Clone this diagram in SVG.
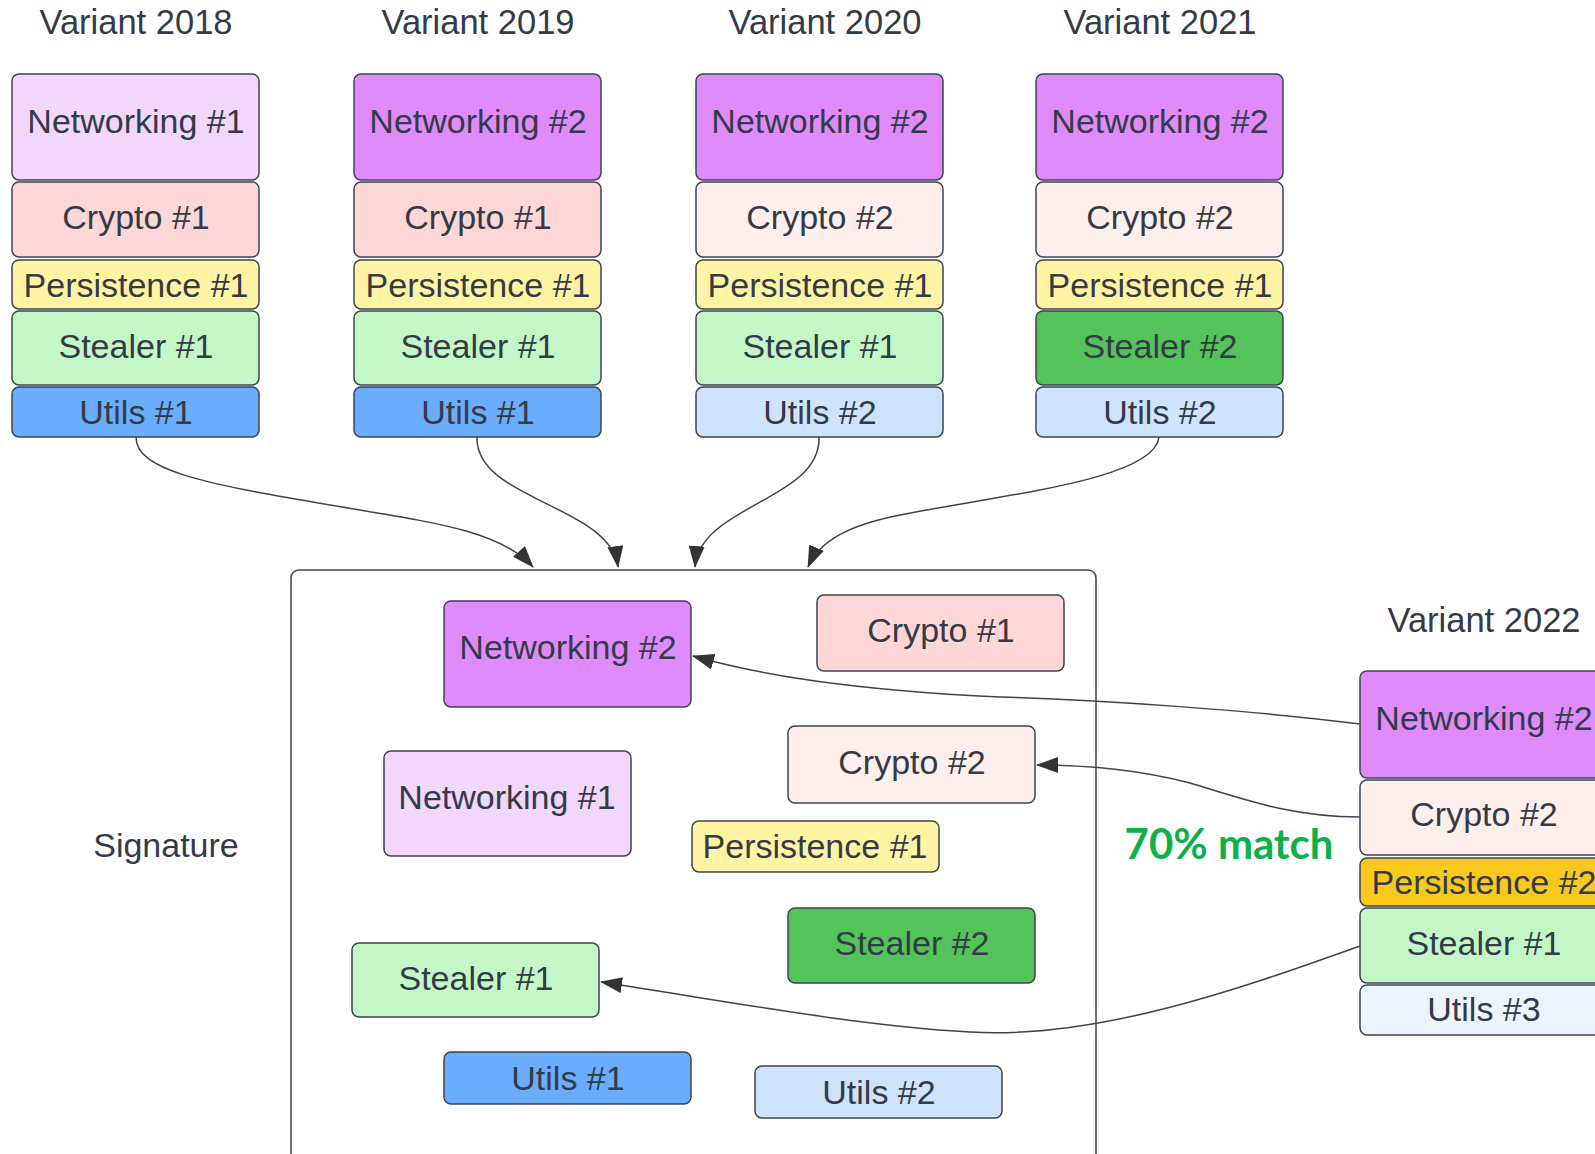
<svg xmlns="http://www.w3.org/2000/svg" width="1595" height="1154" viewBox="0 0 1595 1154">
<defs>
<style>
.b{stroke:#3d4450;stroke-width:1.5}
.t{font-family:"Liberation Sans",Arial,sans-serif;font-size:34px;fill:#333b46;text-anchor:middle}
.h{font-family:"Liberation Sans",Arial,sans-serif;font-size:34.5px;fill:#333b46;text-anchor:middle}
.n1{fill:#f2d6fc}.n2{fill:#df8bfb}.c1{fill:#fed6d6}.c2{fill:#feefec}
.p1{fill:#fff4a3}.p2{fill:#f9c81e}.s1{fill:#c3f7c8}.s2{fill:#54c45a}
.u1{fill:#6aadfd}.u2{fill:#cfe3fd}.u3{fill:#edf4fe}
.e{fill:none;stroke:#3d4450;stroke-width:1.5;marker-end:url(#ah)}
</style>
<marker id="ah" markerUnits="userSpaceOnUse" markerWidth="22" markerHeight="16" refX="21" refY="8" orient="auto">
<path d="M0,0 L22,8 L0,16 z" fill="#333"/>
</marker>
</defs>
<rect width="1595" height="1154" fill="#fff"/>

<g id="titles">
<text class="h" x="136" y="34">Variant 2018</text>
<text class="h" x="478" y="34">Variant 2019</text>
<text class="h" x="825" y="34">Variant 2020</text>
<text class="h" x="1160" y="34">Variant 2021</text>
<text class="h" x="1484" y="632">Variant 2022</text>
<text class="t" x="166" y="857">Signature</text>
<text x="1229" y="859" font-family="Lato,'Open Sans',sans-serif" font-weight="bold" font-size="42" fill="#0db14b" text-anchor="middle">70% match</text>
</g>

<g id="signature">
<rect class="b" x="291" y="570" width="805" height="600" rx="8" fill="none"/>
</g>

<g id="v2018">
<rect class="b n1" x="12" y="74" width="247" height="106" rx="7"/><text class="t" x="136" y="133">Networking #1</text>
<rect class="b c1" x="12" y="182" width="247" height="75" rx="7"/><text class="t" x="136" y="229">Crypto #1</text>
<rect class="b p1" x="12" y="260" width="247" height="49" rx="7"/><text class="t" x="136" y="297">Persistence #1</text>
<rect class="b s1" x="12" y="311" width="247" height="74" rx="7"/><text class="t" x="136" y="358">Stealer #1</text>
<rect class="b u1" x="12" y="387" width="247" height="50" rx="7"/><text class="t" x="136" y="424">Utils #1</text>
</g>
<g id="v2019">
<rect class="b n2" x="354" y="74" width="247" height="106" rx="7"/><text class="t" x="478" y="133">Networking #2</text>
<rect class="b c1" x="354" y="182" width="247" height="75" rx="7"/><text class="t" x="478" y="229">Crypto #1</text>
<rect class="b p1" x="354" y="260" width="247" height="49" rx="7"/><text class="t" x="478" y="297">Persistence #1</text>
<rect class="b s1" x="354" y="311" width="247" height="74" rx="7"/><text class="t" x="478" y="358">Stealer #1</text>
<rect class="b u1" x="354" y="387" width="247" height="50" rx="7"/><text class="t" x="478" y="424">Utils #1</text>
</g>
<g id="v2020">
<rect class="b n2" x="696" y="74" width="247" height="106" rx="7"/><text class="t" x="820" y="133">Networking #2</text>
<rect class="b c2" x="696" y="182" width="247" height="75" rx="7"/><text class="t" x="820" y="229">Crypto #2</text>
<rect class="b p1" x="696" y="260" width="247" height="49" rx="7"/><text class="t" x="820" y="297">Persistence #1</text>
<rect class="b s1" x="696" y="311" width="247" height="74" rx="7"/><text class="t" x="820" y="358">Stealer #1</text>
<rect class="b u2" x="696" y="387" width="247" height="50" rx="7"/><text class="t" x="820" y="424">Utils #2</text>
</g>
<g id="v2021">
<rect class="b n2" x="1036" y="74" width="247" height="106" rx="7"/><text class="t" x="1160" y="133">Networking #2</text>
<rect class="b c2" x="1036" y="182" width="247" height="75" rx="7"/><text class="t" x="1160" y="229">Crypto #2</text>
<rect class="b p1" x="1036" y="260" width="247" height="49" rx="7"/><text class="t" x="1160" y="297">Persistence #1</text>
<rect class="b s2" x="1036" y="311" width="247" height="74" rx="7"/><text class="t" x="1160" y="358">Stealer #2</text>
<rect class="b u2" x="1036" y="387" width="247" height="50" rx="7"/><text class="t" x="1160" y="424">Utils #2</text>
</g>
<g id="v2022">
<rect class="b n2" x="1360" y="671" width="247" height="107" rx="7"/><text class="t" x="1484" y="730">Networking #2</text>
<rect class="b c2" x="1360" y="780" width="247" height="75" rx="7"/><text class="t" x="1484" y="826">Crypto #2</text>
<rect class="b p2" x="1360" y="858" width="247" height="48" rx="7"/><text class="t" x="1484" y="894">Persistence #2</text>
<rect class="b s1" x="1360" y="908" width="247" height="75" rx="7"/><text class="t" x="1484" y="955">Stealer #1</text>
<rect class="b u3" x="1360" y="985" width="247" height="50" rx="7"/><text class="t" x="1484" y="1021">Utils #3</text>
</g>

<g id="sig-networking2"><rect class="b n2" x="444" y="601" width="247" height="106" rx="7"/><text class="t" x="568" y="659">Networking #2</text></g>
<g id="sig-crypto1"><rect class="b c1" x="817" y="595" width="247" height="76" rx="7"/><text class="t" x="941" y="642">Crypto #1</text></g>
<g id="sig-crypto2"><rect class="b c2" x="788" y="726" width="247" height="77" rx="7"/><text class="t" x="912" y="774">Crypto #2</text></g>
<g id="sig-networking1"><rect class="b n1" x="384" y="751" width="247" height="105" rx="7"/><text class="t" x="507" y="809">Networking #1</text></g>
<g id="sig-persistence1"><rect class="b p1" x="692" y="821" width="247" height="51" rx="7"/><text class="t" x="815" y="858">Persistence #1</text></g>
<g id="sig-stealer2"><rect class="b s2" x="788" y="908" width="247" height="75" rx="7"/><text class="t" x="912" y="955">Stealer #2</text></g>
<g id="sig-stealer1"><rect class="b s1" x="352" y="943" width="247" height="74" rx="7"/><text class="t" x="476" y="990">Stealer #1</text></g>
<g id="sig-utils1"><rect class="b u1" x="444" y="1052" width="247" height="52" rx="7"/><text class="t" x="568" y="1090">Utils #1</text></g>
<g id="sig-utils2"><rect class="b u2" x="755" y="1066" width="247" height="52" rx="7"/><text class="t" x="879" y="1104">Utils #2</text></g>

<g id="connectors">
<path class="e" d="M136,437 C136,470 200,483 330,505 C430,522 500,530 533,567"/>
<path class="e" d="M477,437 C475,500 610,505 618,567"/>
<path class="e" d="M819,437 C821,500 700,505 695,567"/>
<path class="e" d="M1159,437 C1155,480 1000,495 900,515 C850,525 820,540 808,567"/>
<path class="e" d="M1360,724 C1250,710 1100,700 1000,697 C850,690 760,675 693,656"/>
<path class="e" d="M1360,817 C1290,817 1240,798 1190,783 C1140,770 1090,765 1037,765"/>
<path class="e" d="M1360,946 C1250,985 1100,1040 970,1032 C850,1025 720,1000 601,982"/>
</g>
</svg>
